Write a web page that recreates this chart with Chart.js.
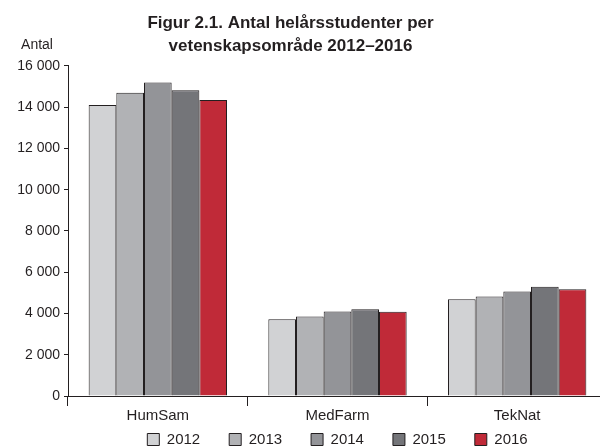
<!DOCTYPE html>
<html><head><meta charset="utf-8">
<script src="https://cdn.jsdelivr.net/npm/chart.js@4/dist/chart.umd.min.js"></script>
<style>html,body{margin:0;padding:0;background:#fff;overflow:hidden}#wrap{width:600px;height:448px;overflow:hidden}</style>
</head><body><div id="wrap"><canvas id="c" width="607" height="448"></canvas></div>
<script>
const categories = ["HumSam", "MedFarm", "TekNat"];
const years = ["2012", "2013", "2014", "2015", "2016"];
const v2012 = [14100, 3720, 4690];
const v2013 = [14700, 3850, 4820];
const v2014 = [15200, 4090, 5060];
const v2015 = [14820, 4200, 5300];
const v2016 = [14350, 4080, 5170];
const yTicks = [0, 2000, 4000, 6000, 8000, 10000, 12000, 14000, 16000];
const colors = ["#d1d2d4", "#b1b2b5", "#939498", "#747579", "#c02a38"];
const series = [v2012, v2013, v2014, v2015, v2016];
const ink = "#231f20";
const font = "'Liberation Sans', Arial, sans-serif";

const antalPlugin = {
  id: 'antal',
  afterLayout(chart) {
    const l = chart.legend;
    if (l) { l.top -= 21; l.height = l.bottom - l.top; }
    const t = chart.titleBlock;
    if (t) { t.left -= 13; t.right -= 13; }
  },
  afterDraw(chart) {
    const ctx = chart.ctx;
    ctx.save();
    ctx.font = "14px " + font;
    ctx.fillStyle = ink;
    ctx.textAlign = "center";
    ctx.textBaseline = "middle";
    ctx.fillText("Antal", 37, 45);
    ctx.restore();
  }
};

new Chart(document.getElementById('c'), {
  type: 'bar',
  data: {
    labels: categories,
    datasets: years.map((y, i) => ({
      label: y,
      data: series[i],
      backgroundColor: colors[i],
      borderColor: ink,
      borderWidth: 1,
      categoryPercentage: 0.77,
      barPercentage: 1.0
    }))
  },
  options: {
    responsive: false,
    animation: false,
    layout: { padding: { left: 0, right: 0, top: 0, bottom: 0 } },
    plugins: {
      title: {
        display: true,
        text: ["Figur 2.1. Antal helårsstudenter per", "vetenskapsområde 2012–2016"],
        color: ink,
        font: { family: font, size: 17, weight: 'bold', lineHeight: 1.35 },
        padding: { top: 12, bottom: 8 }
      },
      legend: {
        position: 'bottom',
        fullSize: false,
        maxHeight: 24,
        labels: {
          color: ink,
          font: { family: font, size: 15 },
          boxWidth: 12,
          boxHeight: 12,
          padding: 29,
          useBorderRadius: false
        }
      },
      tooltip: { enabled: false }
    },
    scales: {
      x: {
        afterFit(s) { s.height = 28; },
        grid: { display: true, drawOnChartArea: false, drawTicks: true, tickLength: 10, color: ink, offset: true },
        border: { display: true, color: ink, width: 1 },
        ticks: { color: ink, font: { family: font, size: 15 }, padding: 1 }
      },
      y: {
        min: 0, max: 16000,
        afterFit(s) { s.width = 68; },
        afterBuildTicks(s) { s.ticks = yTicks.map(v => ({ value: v })); },
        grid: { display: true, drawOnChartArea: false, drawTicks: true, tickLength: 4, color: ink },
        border: { display: true, color: ink, width: 1 },
        ticks: {
          color: ink, font: { family: font, size: 14 }, padding: 4,
          callback: v => v.toLocaleString('sv-SE').replace(/\u00a0/g, ' ')
        }
      }
    }
  },
  plugins: [antalPlugin]
});
</script></body></html>
